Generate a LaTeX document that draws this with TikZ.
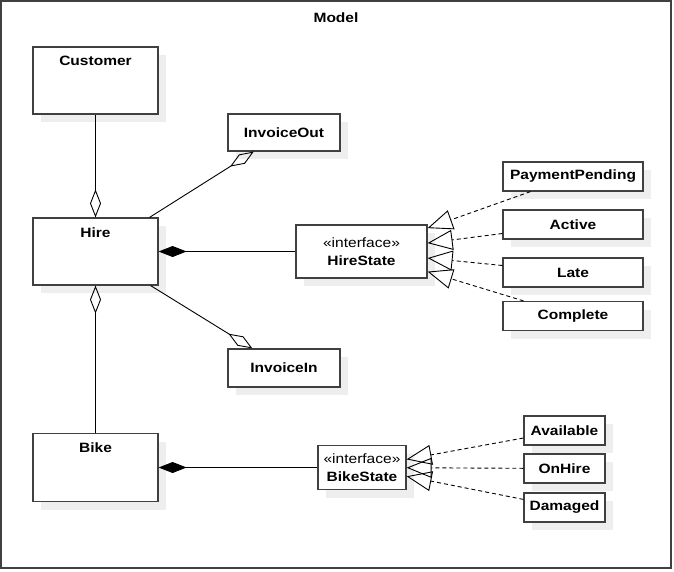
\documentclass[tikz,border=0pt]{standalone}
\usepackage{fontspec}
\setmainfont{Liberation Sans}[FakeStretch=1.15]
\usetikzlibrary{arrows.meta,shadows}
\definecolor{UmlLine}{RGB}{64,64,64}
\definecolor{UmlShadow}{RGB}{238,238,238}

\begin{document}
\begin{tikzpicture}[x=1pt,y=-1pt,font=\fontsize{13.5}{15}\selectfont,
  umlbox/.style n args={2}{draw=UmlLine,line width=1.2pt,fill=white,minimum width=#1pt,minimum height=#2pt,inner sep=0pt,drop shadow={shadow xshift=8pt,shadow yshift=-8pt,fill=UmlShadow,opacity=1}},
  ttl/.style={font=\fontsize{13.5}{15}\selectfont\bfseries},
  cls/.style={label={[anchor=north,yshift=-6.5pt,ttl]north:#1}},
  iface/.style={align=center,font=\fontsize{13.5}{18}\selectfont},
  aggr/.style={-{Diamond[open,length=28pt,width=11pt]},line width=0.9pt},
  comp/.style={-{Diamond[length=28pt,width=11pt]},line width=0.9pt},
  real/.style={-{Triangle[open,length=25pt,width=20pt]},dash pattern=on 4pt off 3pt,line width=0.9pt}]
\useasboundingbox (0,0) rectangle (674,571);
\draw[UmlLine,line width=2pt] (1,1) rectangle (671,568);
\node[ttl] (model) at (336,18) {Model};
% classes
\node[umlbox={125}{67},cls=Customer] (customer) at (95.5,80.5) {};
\node[umlbox={125}{67},cls=Hire] (hire) at (95.5,251.5) {};
\node[umlbox={125}{68},cls=Bike] (bike) at (95.5,467.5) {};
\node[umlbox={112}{37},ttl] (invout) at (284,132.5) {InvoiceOut};
\node[umlbox={112}{38},ttl] (invin) at (284,368) {InvoiceIn};
% interfaces
\node[umlbox={131}{53},iface] (hirestate) at (361.5,251.5) {«interface»\\\textbf{HireState}};
\node[umlbox={88}{44},iface] (bikestate) at (362,467.5) {«interface»\\\textbf{BikeState}};
% states
\foreach \n/\y/\t in %
{pp/176.5/PaymentPending,act/224.5/Active,late/272.5/Late,compl/316/Complete} {
   \node[umlbox={140}{29},ttl] (\n) at (573,\y) {\t};
}
\foreach \n/\y/\t in %
{avail/430.5/Available,onhire/468.5/OnHire,damaged/507.5/Damaged} {
   \node[umlbox={81}{29},ttl] (\n) at (564.5,\y) {\t};
}
% links
\draw[aggr] (customer) -- (hire);
\draw[aggr] (bike) -- (hire);
\draw[aggr] (hire) -- (invout);
\draw[aggr] (hire) -- (invin);
\draw[comp] (hirestate) -- (hire);
\draw[comp] (bikestate) -- (bike);
\foreach \n in {pp,act,late,compl} {
   \draw[real] (\n) -- (hirestate);
}
\foreach \n in {avail,onhire,damaged} {
   \draw[real] (\n) -- (bikestate);
}
\end{tikzpicture}
\end{document}
